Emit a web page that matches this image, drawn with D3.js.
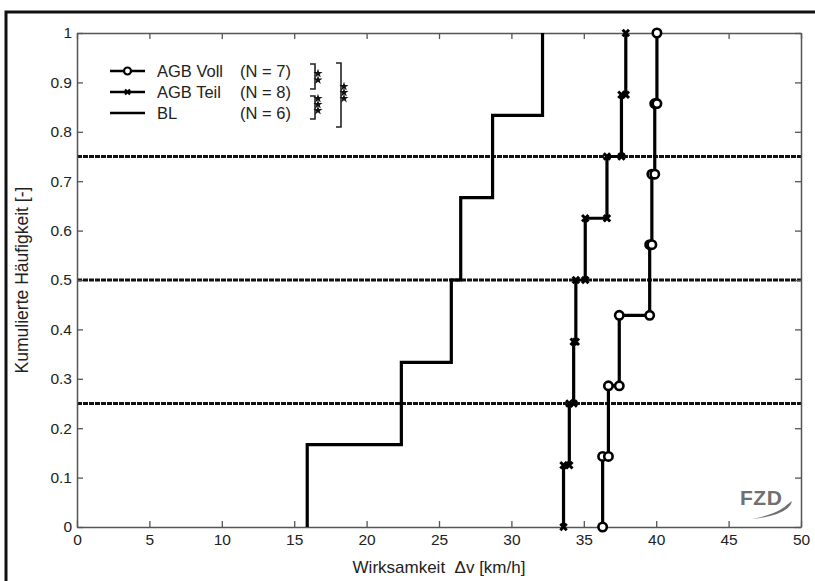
<!DOCTYPE html>
<html>
<head>
<meta charset="utf-8">
<script src="https://cdn.jsdelivr.net/npm/d3@7"></script>
<style>
  body { margin: 0; background: #fff; }
  svg { display: block; font-family: "Liberation Sans", Arial, sans-serif; }
</style>
</head>
<body>
<svg id="chart" width="815" height="581"></svg>
<script>
// sorted values per group (km/h)
const vollValues = [36.3, 36.7, 37.45, 39.55, 39.7, 39.9, 40.05];
const teilValues = [33.6, 34.0, 34.3, 34.45, 35.1, 36.6, 37.6, 37.9];
const blValues = [15.9, 22.4, 25.85, 26.5, 28.7, 32.15];
const refLevels = [0.25, 0.5, 0.75];
const xTicks = [0, 5, 10, 15, 20, 25, 30, 35, 40, 45, 50];
const yTicks = [0, 0.1, 0.2, 0.3, 0.4, 0.5, 0.6, 0.7, 0.8, 0.9, 1];
const legendNames = ["AGB Voll", "AGB Teil", "BL"];
const legendN = ["(N = 7)", "(N = 8)", "(N = 6)"];

let svg = d3.select('#chart');
let margin = { top: 33, right: 14, bottom: 54, left: 77 };
let width = +svg.attr('width');
let height = +svg.attr('height');

// outer frame
svg.append("rect")
  .attr("x", 6).attr("y", 12)
  .attr("width", 830).attr("height", 620)
  .attr("fill", "none")
  .attr("stroke", "#111")
  .attr("stroke-width", 3);

let x = d3.scaleLinear().domain([0, 50]).range([margin.left, width - margin.right]);
let y = d3.scaleLinear().domain([0, 1]).range([height - margin.bottom, margin.top]);

// stair vertices of empirical cdf
let stairs = vals => {
  let n = vals.length, pts = [];
  vals.forEach((v, i) => {
    pts.push([v, i / n]);
    pts.push([v, (i + 1) / n]);
  });
  return pts;
};

let line = d3.line().x(d => x(d[0])).y(d => y(d[1]));

// dotted reference lines
svg.append("g").selectAll("line")
  .data(refLevels)
  .join("line")
    .attr("x1", x(0)).attr("x2", x(50))
    .attr("y1", d => y(d)).attr("y2", d => y(d))
    .attr("stroke", "#111")
    .attr("stroke-width", 3)
    .attr("stroke-dasharray", "5,1");

// axes (boxed, ticks inward)
let axisStyle = g => {
  g.select(".domain").attr("stroke", "#555").attr("stroke-width", 1.5);
  g.selectAll(".tick line").attr("stroke", "#555").attr("stroke-width", 1.3);
  g.selectAll(".tick text").attr("fill", "#222").attr("font-size", 15.5)
    .attr("font-family", "Liberation Sans, Arial, sans-serif");
};
let fmt = d => String(d);
svg.append("g")
  .attr("transform", `translate(0,${y(0)})`)
  .call(d3.axisBottom(x).tickValues(xTicks).tickFormat(fmt).tickSizeInner(-6).tickSizeOuter(0).tickPadding(7))
  .call(axisStyle);
svg.append("g")
  .attr("transform", `translate(0,${y(1)})`)
  .call(d3.axisTop(x).tickValues(xTicks).tickFormat("").tickSizeInner(-6).tickSizeOuter(0))
  .call(axisStyle);
svg.append("g")
  .attr("transform", `translate(${x(0)},0)`)
  .call(d3.axisLeft(y).tickValues(yTicks).tickFormat(fmt).tickSizeInner(-6).tickSizeOuter(0).tickPadding(5))
  .call(axisStyle);
svg.append("g")
  .attr("transform", `translate(${x(50)},0)`)
  .call(d3.axisRight(y).tickValues(yTicks).tickFormat("").tickSizeInner(-6).tickSizeOuter(0))
  .call(axisStyle);

// step lines
[blValues, teilValues, vollValues].forEach(vals => {
  svg.append("path")
    .datum(stairs(vals))
    .attr("fill", "none")
    .attr("stroke", "#000")
    .attr("stroke-width", 3.2)
    .attr("d", line);
});

// markers
let crossPath = "M-3.2,-3.2L3.2,3.2M-3.2,3.2L3.2,-3.2";
svg.append("g").selectAll("path")
  .data(stairs(teilValues))
  .join("path")
    .attr("transform", d => `translate(${x(d[0])},${y(d[1])})`)
    .attr("d", crossPath)
    .attr("stroke", "#000")
    .attr("stroke-width", 3);
svg.append("g").selectAll("circle")
  .data(stairs(vollValues))
  .join("circle")
    .attr("cx", d => x(d[0]))
    .attr("cy", d => y(d[1]))
    .attr("r", 4.2)
    .attr("fill", "#fff")
    .attr("stroke", "#000")
    .attr("stroke-width", 2.6);

// axis labels
svg.append("text")
  .attr("x", (x(0) + x(50)) / 2)
  .attr("y", 573)
  .attr("text-anchor", "middle")
  .attr("font-size", 17)
  .attr("fill", "#222")
  .style("white-space", "pre")
  .text("Wirksamkeit  Δv [km/h]");
svg.append("text")
  .attr("transform", `translate(28,${(y(0) + y(1)) / 2}) rotate(-90)`)
  .attr("text-anchor", "middle")
  .attr("font-size", 17.5)
  .attr("fill", "#222")
  .text("Kumulierte Häufigkeit [-]");

// legend
let legend = svg.append("g").attr("class", "legend");
let rowY = [71, 92, 113];
legendNames.forEach((name, i) => {
  let ly = rowY[i];
  legend.append("line")
    .attr("x1", 110).attr("x2", 145).attr("y1", ly).attr("y2", ly)
    .attr("stroke", "#000").attr("stroke-width", 2.5);
  if (i === 0) {
    legend.append("circle").attr("cx", 127.5).attr("cy", ly).attr("r", 3.5)
      .attr("fill", "#fff").attr("stroke", "#000").attr("stroke-width", 2.2);
  } else if (i === 1) {
    legend.append("path").attr("transform", `translate(127.5,${ly})`)
      .attr("d", "M-2.5,-2.5L2.5,2.5M-2.5,2.5L2.5,-2.5")
      .attr("stroke", "#000").attr("stroke-width", 2.2);
  }
  legend.append("text").attr("x", 157).attr("y", ly + 6)
    .attr("font-size", 16.5).attr("fill", "#222").text(name);
  legend.append("text").attr("x", 240).attr("y", ly + 6)
    .attr("font-size", 16.5).attr("fill", "#222").text(legendN[i]);
});

// significance brackets with stacked stars
let star = d3.symbol().type(d3.symbolStar).size(26);
let bracket = (bx, y1, y2, starYs) => {
  legend.append("path")
    .attr("d", `M${bx - 5},${y1}H${bx}V${y2}H${bx - 5}`)
    .attr("fill", "none").attr("stroke", "#222").attr("stroke-width", 1.6);
  starYs.forEach(sy => {
    legend.append("path")
      .attr("transform", `translate(${bx + 3},${sy})`)
      .attr("d", star())
      .attr("fill", "#111");
  });
};
bracket(315, 64, 89, [73.5, 80]);
bracket(315, 96, 119, [98.5, 104.5, 110.5]);
bracket(341, 63, 127, [86.5, 92.5, 98.5]);

// FZD logo
let logo = svg.append("g").attr("fill", "#707070");
logo.append("text").attr("x", 740).attr("y", 505)
  .attr("font-size", 21).attr("font-weight", "bold")
  .attr("letter-spacing", 0.5).text("FZD");
logo.append("path")
  .attr("d", "M752,519 Q778,514 788,504 L792,501 Q789,515 752,519 Z");
</script>
</body>
</html>
